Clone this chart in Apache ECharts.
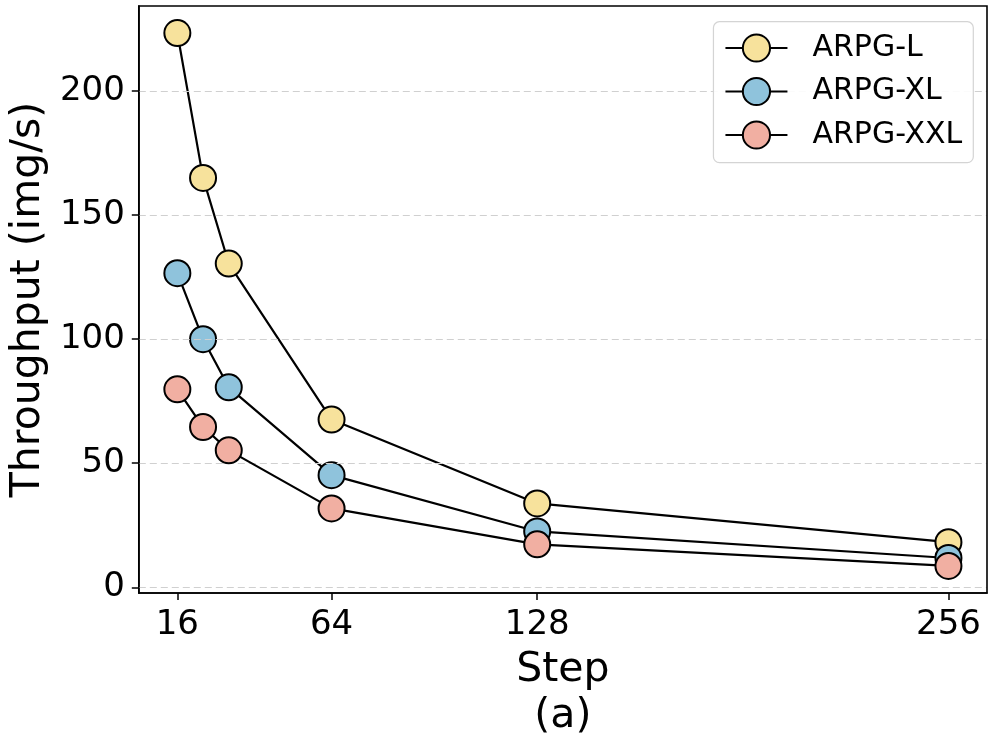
<!DOCTYPE html>
<html>
<head>
<meta charset="utf-8">
<script src="https://cdn.jsdelivr.net/npm/echarts@6/dist/echarts.min.js"></script>
<style>html,body{margin:0;padding:0;background:#fff}#c{width:996px;height:747px}</style>
</head>
<body>
<div id="c"></div>
<script>
const steps = [16, 24, 32, 64, 128, 256];
const arpgL = [223.4, 165, 130.5, 67.6, 33.8, 18.2];
const arpgXL = [126.6, 100, 80.6, 45.2, 22.5, 11.8];
const arpgXXL = [79.8, 64.6, 55.2, 31.8, 17.3, 8.6];
const xTicks = [16, 64, 128, 256];
const yTicks = [0, 50, 100, 150, 200];
const seriesNames = ['ARPG-L', 'ARPG-XL', 'ARPG-XXL'];
const seriesColors = ['#F7E29C', '#8FC3DC', '#F1AFA2'];
const seriesData = [arpgL, arpgXL, arpgXXL];

const FONT = 'DejaVu Sans';
const chart = echarts.init(document.getElementById('c'), null, {renderer: 'canvas'});

const series = seriesNames.map((n, i) => ({
  name: n,
  type: 'line',
  data: steps.map((s, j) => [s, seriesData[i][j]]),
  symbol: 'circle',
  symbolSize: 26,
  z: 3 + i,
  lineStyle: {color: '#000', width: 2.2},
  itemStyle: {color: seriesColors[i], borderColor: '#000', borderWidth: 2},
  emphasis: {disabled: true},
  animation: false
}));
series.push({
  type: 'line',
  data: [],
  silent: true,
  z: 1,
  markLine: {
    silent: true,
    symbol: 'none',
    label: {show: false},
    lineStyle: {color: '#d0d0d0', type: [7, 4], width: 1.2},
    data: yTicks.map(v => ({yAxis: v}))
  },
  animation: false
});

chart.setOption({
  animation: false,
  backgroundColor: '#fff',
  grid: {left: 138, right: 9, top: 6, bottom: 154, show: true, borderColor: '#000', borderWidth: 1.6, backgroundColor: 'transparent', z: 10},
  legend: {
    data: seriesNames,
    right: 22.7,
    top: 21.7,
    z: 20,
    orient: 'vertical',
    itemWidth: 62,
    itemHeight: 34,
    itemGap: 13.5,
    padding: [11.3, 11, 12.7, 11],
    borderColor: '#d4d4d4',
    borderWidth: 1.2,
    borderRadius: 6,
    backgroundColor: 'rgba(255,255,255,0.9)',
    textStyle: {fontFamily: FONT, fontSize: 30, color: '#000', padding: [0, 0, 0, 20]}
  },
  xAxis: {
    type: 'value',
    min: 4,
    max: 268,
    name: 'Step\n(a)',
    nameLocation: 'middle',
    nameGap: 54,
    nameTextStyle: {fontFamily: FONT, fontSize: 41, color: '#000', lineHeight: 46, verticalAlign: 'top'},
    axisLine: {show: true, onZero: false, lineStyle: {color: '#000', width: 1.6}},
    axisTick: {show: true, length: 7, lineStyle: {color: '#000', width: 1.5}, customValues: xTicks},
    axisLabel: {customValues: xTicks, fontFamily: FONT, fontSize: 34, color: '#000', margin: 15},
    splitLine: {show: false}
  },
  yAxis: {
    type: 'value',
    min: -2.3,
    max: 234.3,
    name: 'Throughput (img/s)',
    nameLocation: 'middle',
    nameGap: 88,
    nameRotate: 90,
    nameTextStyle: {fontFamily: FONT, fontSize: 41, color: '#000'},
    axisLine: {show: true, onZero: false, lineStyle: {color: '#000', width: 1.6}},
    axisTick: {show: true, length: 7, lineStyle: {color: '#000', width: 1.5}, customValues: yTicks},
    axisLabel: {customValues: yTicks, fontFamily: FONT, fontSize: 34, color: '#000', margin: 14},
    splitLine: {show: false}
  },
  series: series
});
</script>
</body>
</html>
